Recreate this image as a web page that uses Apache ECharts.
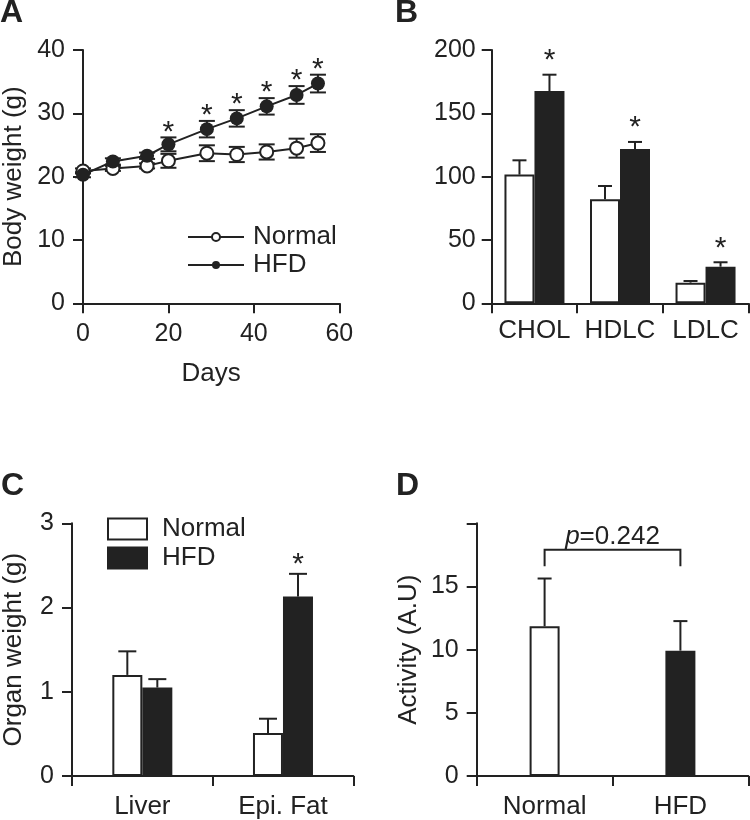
<!DOCTYPE html>
<html><head><meta charset="utf-8">
<script src="https://cdn.jsdelivr.net/npm/echarts@6/dist/echarts.min.js"></script>
<style>html,body{margin:0;padding:0;background:#fff}#c{width:750px;height:820px}</style>
</head><body><div id="c"></div>
<script>
// ---- Panel A: body weight ----
const days = [0, 7, 15, 20, 29, 36, 43, 50, 55];
const normalWeight = [20.9, 21.3, 21.7, 22.5, 23.7, 23.5, 23.9, 24.5, 25.3];
const normalWeightErr = [0.4, 0.4, 0.4, 1.1, 1.25, 1.2, 1.2, 1.5, 1.4];
const hfdWeight = [20.3, 22.4, 23.3, 25.1, 27.5, 29.2, 31.1, 32.9, 34.7];
const hfdWeightErr = [0.4, 0.5, 0.5, 1.1, 1.3, 1.3, 1.3, 1.4, 1.4];
const weightSig = [0, 0, 0, 1, 1, 1, 1, 1, 1];

// ---- Panel B: lipids ----
const lipidCats = ['CHOL', 'HDLC', 'LDLC'];
const normalLipid = [101.6, 82.1, 16.3];
const normalLipidErr = [11.3, 10.5, 1.3];
const hfdLipid = [167.6, 121.8, 28.9];
const hfdLipidErr = [12.9, 5.6, 3.5];
const lipidSig = [1, 1, 1];

// ---- Panel C: organ weight ----
const organCats = ['Liver', 'Epi. Fat'];
const normalOrgan = [1.20, 0.51];
const normalOrganErr = [0.28, 0.17];
const hfdOrgan = [1.05, 2.13];
const hfdOrganErr = [0.10, 0.27];
const organSig = [0, 1];

// ---- Panel D: activity ----
const activityCats = ['Normal', 'HFD'];
const activity = [11.85, 9.92];
const activityErr = [3.78, 2.34];
const bracketLevel = 17.9;
const bracketDrop = 16.6;
const pValueText = '0.242';

const INK = '#222';
const FONT = '"Liberation Sans", Arial, Helvetica, sans-serif';
const groupFill = ['#ffffff', INK];

function axisBase(extra) {
  return Object.assign({
    axisLine: {show: true, onZero: true, lineStyle: {color: INK, width: 2}},
    axisTick: {show: true, length: 10, lineStyle: {color: INK, width: 2}},
    splitLine: {show: false},
    axisLabel: {color: INK, fontSize: 25, fontFamily: FONT, margin: 18},
    nameTextStyle: {color: INK, fontSize: 26, fontFamily: FONT}
  }, extra);
}

function errorSeries(xi, yi, xs, vals, errs, sig, opt) {
  return {
    type: 'custom', xAxisIndex: xi, yAxisIndex: yi, z: opt.z || 3, silent: true,
    data: xs.map((x, i) => [x, vals[i], errs[i], sig ? sig[i] : 0]),
    encode: {x: 0, y: 1},
    renderItem(params, api) {
      const x = api.value(0), v = api.value(1), e = api.value(2), s = api.value(3);
      const top = api.coord([x, v + e]);
      const base = api.coord([x, opt.both ? v - e : v]);
      const cx = top[0] + (opt.dx || 0), hw = opt.cap;
      const st = {stroke: INK, lineWidth: 2};
      const ch = [
        {type: 'line', shape: {x1: cx, y1: top[1], x2: cx, y2: base[1]}, style: st},
        {type: 'line', shape: {x1: cx - hw, y1: top[1], x2: cx + hw, y2: top[1]}, style: st}
      ];
      if (opt.both) ch.push({type: 'line', shape: {x1: cx - hw, y1: base[1], x2: cx + hw, y2: base[1]}, style: st});
      if (s) ch.push({type: 'text', style: {text: '*', x: cx, y: top[1] - opt.starGap,
        align: 'center', verticalAlign: 'middle', textAlign: 'center', textVerticalAlign: 'middle',
        fontSize: 30, fontFamily: FONT, fill: INK}});
      return {type: 'group', children: ch};
    }
  };
}

const chart = echarts.init(document.getElementById('c'), null, {renderer: 'canvas'});

const option = {
  animation: false,
  backgroundColor: '#fff',
  textStyle: {fontFamily: FONT},
  grid: [
    {left: 82.7, top: 50, width: 256.6, height: 253.3},
    {left: 491.7, top: 50, width: 256.6, height: 253.3},
    {left: 68.3, top: 523.3, width: 285, height: 253.4},
    {left: 476.7, top: 523.3, width: 271.6, height: 253.4}
  ],
  xAxis: [
    axisBase({gridIndex: 0, type: 'value', min: 0, max: 60, interval: 20,
      name: 'Days', nameLocation: 'middle', nameGap: 58}),
    axisBase({gridIndex: 1, type: 'category', data: lipidCats,
      axisLabel: {color: INK, fontSize: 26, fontFamily: FONT, margin: 15, interval: 0}}),
    axisBase({gridIndex: 2, type: 'category', data: organCats,
      axisLabel: {color: INK, fontSize: 26, fontFamily: FONT, margin: 18, interval: 0}}),
    axisBase({gridIndex: 3, type: 'category', data: activityCats,
      axisLabel: {color: INK, fontSize: 26, fontFamily: FONT, margin: 18, interval: 0}})
  ],
  yAxis: [
    axisBase({gridIndex: 0, type: 'value', min: 0, max: 40, interval: 10,
      name: 'Body weight (g)', nameLocation: 'middle', nameRotate: 90, nameGap: 56,
      axisLabel: {color: INK, fontSize: 25, fontFamily: FONT, margin: 18}}),
    axisBase({gridIndex: 1, type: 'value', min: 0, max: 200, interval: 50,
      axisLabel: {color: INK, fontSize: 25, fontFamily: FONT, margin: 16}}),
    axisBase({gridIndex: 2, type: 'value', min: 0, max: 3, interval: 1,
      name: 'Organ weight (g)', nameLocation: 'middle', nameRotate: 90, nameGap: 45,
      axisLabel: {color: INK, fontSize: 25, fontFamily: FONT, margin: 18}}),
    axisBase({gridIndex: 3, type: 'value', min: 0, max: 20, interval: 5,
      name: 'Activity (A.U)', nameLocation: 'middle', nameRotate: 90, nameGap: 55,
      axisLabel: {color: INK, fontSize: 25, fontFamily: FONT, margin: 18,
        formatter: v => (v === 20 ? '' : String(v))}})
  ],
  legend: [
    {
      data: ['Normal', 'HFD'], orient: 'vertical', left: 182, top: 219,
      itemWidth: 56, itemHeight: 10, itemGap: 2, selectedMode: false,
      textStyle: {color: INK, fontSize: 26, fontFamily: FONT, padding: [0, 0, 0, 4]}
    },
    {
      data: [
        {name: 'Normal', icon: 'rect', itemStyle: {color: '#fff', borderColor: INK, borderWidth: 2}},
        {name: 'HFD', icon: 'rect', itemStyle: {color: INK, borderColor: INK, borderWidth: 2}}
      ],
      orient: 'vertical', left: 102, top: 511, itemWidth: 39, itemHeight: 21, itemGap: 3,
      selectedMode: false,
      textStyle: {color: INK, fontSize: 26, fontFamily: FONT, padding: [0, 0, 0, 10]}
    }
  ],
  series: [
    // A
    errorSeries(0, 0, days, normalWeight, normalWeightErr, null, {both: true, cap: 8, z: 1}),
    errorSeries(0, 0, days, hfdWeight, hfdWeightErr, weightSig, {both: true, cap: 8, z: 1, starGap: 5}),
    {
      name: 'Normal', type: 'line', xAxisIndex: 0, yAxisIndex: 0, z: 2,
      data: days.map((d, i) => [d, normalWeight[i]]),
      symbol: 'emptyCircle', symbolSize: 13, color: INK,
      lineStyle: {color: INK, width: 2}, itemStyle: {color: INK, borderWidth: 2}
    },
    {
      name: 'HFD', type: 'line', xAxisIndex: 0, yAxisIndex: 0, z: 3,
      data: days.map((d, i) => [d, hfdWeight[i]]),
      symbol: 'circle', symbolSize: 14, color: INK,
      lineStyle: {color: INK, width: 2}, itemStyle: {color: INK}
    },
    // B
    {
      name: 'Normal', type: 'bar', xAxisIndex: 1, yAxisIndex: 1, data: normalLipid,
      barWidth: 30, barGap: '0%', itemStyle: {color: '#fff', borderColor: INK, borderWidth: 2}
    },
    {
      name: 'HFD', type: 'bar', xAxisIndex: 1, yAxisIndex: 1, data: hfdLipid,
      barWidth: 30, barGap: '0%', itemStyle: {color: INK, borderColor: INK, borderWidth: 2}
    },
    errorSeries(1, 1, lipidCats.map((c, i) => i), normalLipid, normalLipidErr, null, {cap: 7, dx: -15}),
    errorSeries(1, 1, lipidCats.map((c, i) => i), hfdLipid, hfdLipidErr, lipidSig, {cap: 7, dx: 15, starGap: 14}),
    // C
    {
      name: 'Normal', type: 'bar', xAxisIndex: 2, yAxisIndex: 2, data: normalOrgan,
      barWidth: 30, barGap: '0%', itemStyle: {color: '#fff', borderColor: INK, borderWidth: 2}
    },
    {
      name: 'HFD', type: 'bar', xAxisIndex: 2, yAxisIndex: 2, data: hfdOrgan,
      barWidth: 30, barGap: '0%', itemStyle: {color: INK, borderColor: INK, borderWidth: 2}
    },
    errorSeries(2, 2, organCats.map((c, i) => i), normalOrgan, normalOrganErr, null, {cap: 9, dx: -15}),
    errorSeries(2, 2, organCats.map((c, i) => i), hfdOrgan, hfdOrganErr, organSig, {cap: 9, dx: 15, starGap: 9}),
    // D
    {
      name: 'Activity', type: 'bar', xAxisIndex: 3, yAxisIndex: 3, barWidth: 30,
      data: activity.map((v, i) => ({value: v, itemStyle: {color: groupFill[i]}})),
      itemStyle: {borderColor: INK, borderWidth: 2}
    },
    errorSeries(3, 3, activityCats.map((c, i) => i), activity, activityErr, null, {cap: 7}),
    {
      type: 'custom', xAxisIndex: 3, yAxisIndex: 3, silent: true, z: 4,
      data: [[0, bracketLevel, bracketDrop]],
      encode: {x: 0, y: 1},
      renderItem(params, api) {
        const a = api.coord([0, api.value(1)]);
        const b = api.coord([1, api.value(1)]);
        const d = api.coord([0, api.value(2)]);
        return {type: 'group', children: [
          {type: 'polyline', shape: {points: [[a[0], d[1]], [a[0], a[1]], [b[0], b[1]], [b[0], d[1]]]},
            style: {stroke: INK, lineWidth: 2, fill: null}},
          {type: 'text', style: {
            text: '{i|p}=' + pValueText,
            rich: {i: {fontStyle: 'italic', fontSize: 26, fontFamily: FONT, fill: INK}},
            x: (a[0] + b[0]) / 2, y: a[1] - 13,
            align: 'center', verticalAlign: 'middle', textAlign: 'center', textVerticalAlign: 'middle',
            fontSize: 26, fontFamily: FONT, fill: INK}}
        ]};
      }
    }
  ],
  graphic: [
    {type: 'text', left: 0, top: -3, style: {text: 'A', fontSize: 32, fontWeight: 'bold', fontFamily: FONT, fill: INK}},
    {type: 'text', left: 395, top: -3, style: {text: 'B', fontSize: 32, fontWeight: 'bold', fontFamily: FONT, fill: INK}},
    {type: 'text', left: 1, top: 470, style: {text: 'C', fontSize: 32, fontWeight: 'bold', fontFamily: FONT, fill: INK}},
    {type: 'text', left: 396, top: 470, style: {text: 'D', fontSize: 32, fontWeight: 'bold', fontFamily: FONT, fill: INK}}
  ]
};
chart.setOption(option);
</script>
</body></html>
